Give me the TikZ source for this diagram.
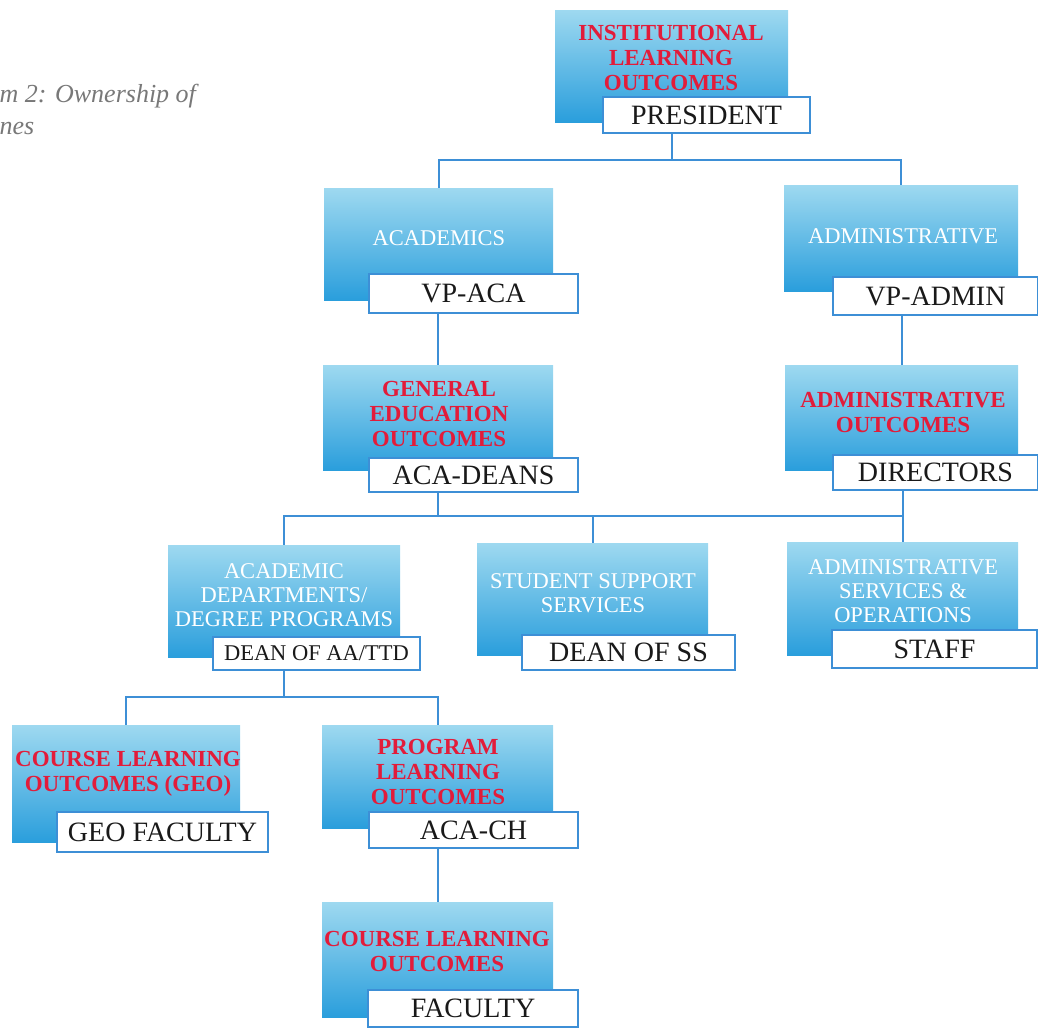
\documentclass[tikz,border=0pt]{standalone}
\usepackage{fontspec}
\setmainfont{Liberation Serif}
\definecolor{skytop}{RGB}{158,217,240}
\definecolor{skydeep}{RGB}{42,158,220}
\definecolor{linkblue}{RGB}{61,143,214}
\definecolor{outred}{RGB}{226,28,58}
\definecolor{capgrey}{RGB}{120,120,120}

\begin{document}
\begin{tikzpicture}[x=1pt, y=-1pt]
    % Define styles
    \tikzset{
        unit/.style={
            rectangle,
            inner sep=0pt,
            top color=skytop,
            bottom color=skydeep
        },
        role/.style={
            rectangle,
            draw=linkblue,
            line width=1.3pt,
            fill=white,
            inner sep=0pt,
            text=black!90,
            font=\fontsize{28}{30}\selectfont
        },
        outcome/.style={
            align=center,
            text=outred,
            font=\bfseries\fontsize{23}{25}\selectfont
        },
        area/.style={
            align=center,
            text=white,
            font=\fontsize{22.5}{24}\selectfont
        },
        caption/.style={
            anchor=west,
            text=capgrey,
            font=\itshape\fontsize{26}{28}\selectfont
        },
        link/.style={
            linkblue,
            line width=2pt
        }
    }
    \useasboundingbox (0,0) rectangle (1038,1028);
    \clip (0,0) rectangle (1038,1028);

    % Caption (cut at the left edge)
    \node[caption] (cap1) at (-4,96) {m 2: Ownership of};
    \node[caption] (cap2) at (-4,128) {nes};

    % Level 1: institution
    \node[unit, minimum width=233pt, minimum height=112pt] (ilo) at (671.5,66) {};
    \node[outcome] at (671,58) {INSTITUTIONAL\\LEARNING\\OUTCOMES};
    \node[role, minimum width=207pt, minimum height=36pt] (pres) at (706.5,115) {PRESIDENT};

    % Level 2: vice presidents
    \node[unit, minimum width=229pt, minimum height=112pt] (aca) at (438.5,244) {};
    \node[area] at (439,238) {ACADEMICS};
    \node[role, minimum width=209pt, minimum height=39pt] (vpaca) at (473.5,293.5) {VP-ACA};

    \node[unit, minimum width=234pt, minimum height=106pt] (adm) at (901,238) {};
    \node[area] at (903,236) {ADMINISTRATIVE};
    \node[role, minimum width=205pt, minimum height=38pt] (vpadm) at (935.5,296) {VP-ADMIN};

    % Level 3: outcomes owners
    \node[unit, minimum width=230pt, minimum height=105pt] (gen) at (438,417.5) {};
    \node[outcome] at (439,414) {GENERAL\\EDUCATION\\OUTCOMES};
    \node[role, minimum width=209pt, minimum height=34pt] (deans) at (473.5,475) {ACA-DEANS};

    \node[unit, minimum width=233pt, minimum height=105pt] (ado) at (901.5,417.5) {};
    \node[outcome] at (903,412) {ADMINISTRATIVE\\OUTCOMES};
    \node[role, minimum width=205pt, minimum height=35pt] (dirs) at (935.5,472.5) {DIRECTORS};

    % Level 4: units
    \node[unit, minimum width=232pt, minimum height=112pt] (dep) at (284,601) {};
    \node[area] at (284,595) {ACADEMIC\\DEPARTMENTS/\\DEGREE PROGRAMS};
    \node[role, minimum width=207pt, minimum height=33pt, font=\fontsize{22.5}{24}\selectfont] (aatd) at (316.5,653.5) {DEAN OF AA/TTD};

    \node[unit, minimum width=231pt, minimum height=112pt] (sss) at (592.5,599) {};
    \node[area] at (593,593) {STUDENT SUPPORT\\SERVICES};
    \node[role, minimum width=213pt, minimum height=35pt] (deanss) at (628.5,652.5) {DEAN OF SS};

    \node[unit, minimum width=231pt, minimum height=113pt] (aso) at (902.5,598.5) {};
    \node[area] at (903,591) {ADMINISTRATIVE\\SERVICES \&\\OPERATIONS};
    \node[role, minimum width=205pt, minimum height=38pt] (staff) at (934.5,649) {STAFF};

    % Level 5: course and program outcomes
    \node[unit, minimum width=228pt, minimum height=117pt] (cgeo) at (126,783.5) {};
    \node[outcome] at (128,774) {COURSE LEARNING\\OUTCOMES (GEO)};
    \node[role, minimum width=211pt, minimum height=40pt] (geofac) at (162.5,832) {GEO FACULTY};

    \node[unit, minimum width=231pt, minimum height=103pt] (plo) at (437.5,776.5) {};
    \node[outcome] at (438,772) {PROGRAM\\LEARNING\\OUTCOMES};
    \node[role, minimum width=209pt, minimum height=36pt] (acach) at (473.5,830) {ACA-CH};

    \node[unit, minimum width=231pt, minimum height=115pt] (clo) at (437.5,959.5) {};
    \node[outcome] at (437,951) {COURSE LEARNING\\OUTCOMES};
    \node[role, minimum width=210pt, minimum height=37pt] (fac) at (473,1008.5) {FACULTY};

    % Bus lines
    \coordinate (bus1) at (0,160);
    \coordinate (bus2) at (0,516);
    \coordinate (bus3) at (0,697);

    % Connectors
    \draw[link] (ilo.south |- pres.south) -- (ilo.south |- bus1) -| (aca.north);
    \draw[link] (ilo.south |- bus1) -| (adm.north);
    \draw[link] (gen.north |- vpaca.south) -- (gen.north);
    \draw[link] (ado.north |- vpadm.south) -- (ado.north);
    \draw[link] (gen.south |- deans.south) -- (gen.south |- bus2);
    \draw[link] (dep.north) |- (aso.north |- bus2);
    \draw[link] (sss.north) -- (sss.north |- bus2);
    \draw[link] (aso.north |- dirs.south) -- (aso.north);
    \draw[link] (dep.south |- aatd.south) -- (dep.south |- bus3);
    \draw[link] (cgeo.north) |- (plo.north |- bus3) -- (plo.north);
    \draw[link] (clo.north |- acach.south) -- (clo.north);

\end{tikzpicture}
\end{document}
